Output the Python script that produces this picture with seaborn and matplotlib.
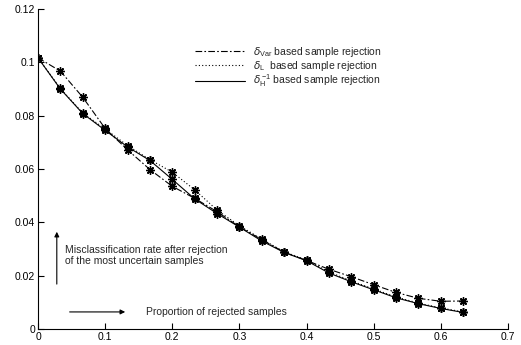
import matplotlib
matplotlib.use("Agg")
import matplotlib.pyplot as plt
from matplotlib.lines import Line2D
import numpy as np
import pandas as pd
import seaborn as sns

# proportion of rejected samples (steps of 1/30)
proportion = [0, 1/30, 2/30, 3/30, 4/30, 5/30, 6/30, 7/30, 8/30, 9/30,
              10/30, 11/30, 12/30, 13/30, 14/30, 15/30, 16/30, 17/30, 18/30, 19/30]

# misclassification rate after rejection
err_var = [0.1017, 0.0967, 0.0869, 0.0752, 0.0672, 0.0598, 0.0535, 0.0490, 0.0440, 0.0383,
           0.0335, 0.0288, 0.0257, 0.0224, 0.0196, 0.0166, 0.0137, 0.0115, 0.0104, 0.0105]
err_l = [0.1017, 0.0902, 0.0810, 0.0750, 0.0688, 0.0635, 0.0588, 0.0522, 0.0446, 0.0387,
         0.0337, 0.0289, 0.0259, 0.0214, 0.0180, 0.0150, 0.0120, 0.0097, 0.0079, 0.0064]
err_h = [0.1017, 0.0900, 0.0808, 0.0745, 0.0683, 0.0632, 0.0561, 0.0488, 0.0433, 0.0382,
         0.0330, 0.0287, 0.0256, 0.0210, 0.0177, 0.0147, 0.0117, 0.0095, 0.0077, 0.0062]

labels = [r'$\delta_{\mathrm{Var}}$ based sample rejection',
          r'$\delta_{\mathrm{L}}$  based sample rejection',
          r'$\delta_{\mathrm{H}}^{\,\mathrm{-1}}$ based sample rejection']

sns.set_style("ticks")
plt.rcParams['font.family'] = ['Liberation Sans', 'DejaVu Sans']
plt.rcParams['mathtext.fontset'] = 'custom'
plt.rcParams['mathtext.rm'] = 'Liberation Sans'

fig = plt.figure(figsize=(5.21, 3.45), dpi=100)
ax = fig.add_axes([38/521, 16/345, 470/521, 320/345])

styles = [(0, (6, 2, 1.5, 2)), (0, (1, 2)), '-']
series = [err_var, err_l, err_h]
for ys, ls in zip(series, styles):
    df = pd.DataFrame({'x': proportion, 'y': ys})
    sns.lineplot(data=df, x='x', y='y', ax=ax, color='black', linewidth=0.8,
                 linestyle=ls, marker=(8, 2, 0), markersize=6, markeredgewidth=1.0,
                 markeredgecolor='black', markerfacecolor='black')

ax.set_xlim(0, 0.7)
ax.set_ylim(0, 0.12)
ax.set_xticks(np.arange(0, 0.71, 0.1))
ax.set_xticklabels(['0', '0.1', '0.2', '0.3', '0.4', '0.5', '0.6', '0.7'])
ax.set_yticks(np.arange(0, 0.121, 0.02))
ax.set_yticklabels(['0', '0.02', '0.04', '0.06', '0.08', '0.1', '0.12'])
ax.tick_params(direction='in', length=4, width=0.8, labelsize=7.5, pad=2, colors='black')
ax.set_xlabel('')
ax.set_ylabel('')
for side in ['top', 'right']:
    ax.spines[side].set_visible(False)
for side in ['left', 'bottom']:
    ax.spines[side].set_linewidth(0.8)
    ax.spines[side].set_color('black')

handles = [Line2D([0], [0], color='black', linewidth=0.8, linestyle=ls) for ls in styles]
ax.legend(handles, labels, loc='upper left', bbox_to_anchor=(0.322, 0.905), frameon=False,
          fontsize=7.5, handlelength=4.8, handletextpad=0.8, labelspacing=0.0, borderpad=0)

# annotations
ax.annotate('', xy=(0.028, 0.0375), xytext=(0.028, 0.0158),
            arrowprops=dict(arrowstyle='-|>', color='black', lw=0.8, mutation_scale=7))
ax.text(0.04, 0.0277, 'Misclassification rate after rejection\nof the most uncertain samples',
        fontsize=7.5, va='center', ha='left', linespacing=1.15)
ax.annotate('', xy=(0.134, 0.0064), xytext=(0.043, 0.0064),
            arrowprops=dict(arrowstyle='-|>', color='black', lw=0.8, mutation_scale=7))
ax.text(0.161, 0.0064, 'Proportion of rejected samples', fontsize=7.5, va='center', ha='left')

fig.savefig('out.png', dpi=100)
